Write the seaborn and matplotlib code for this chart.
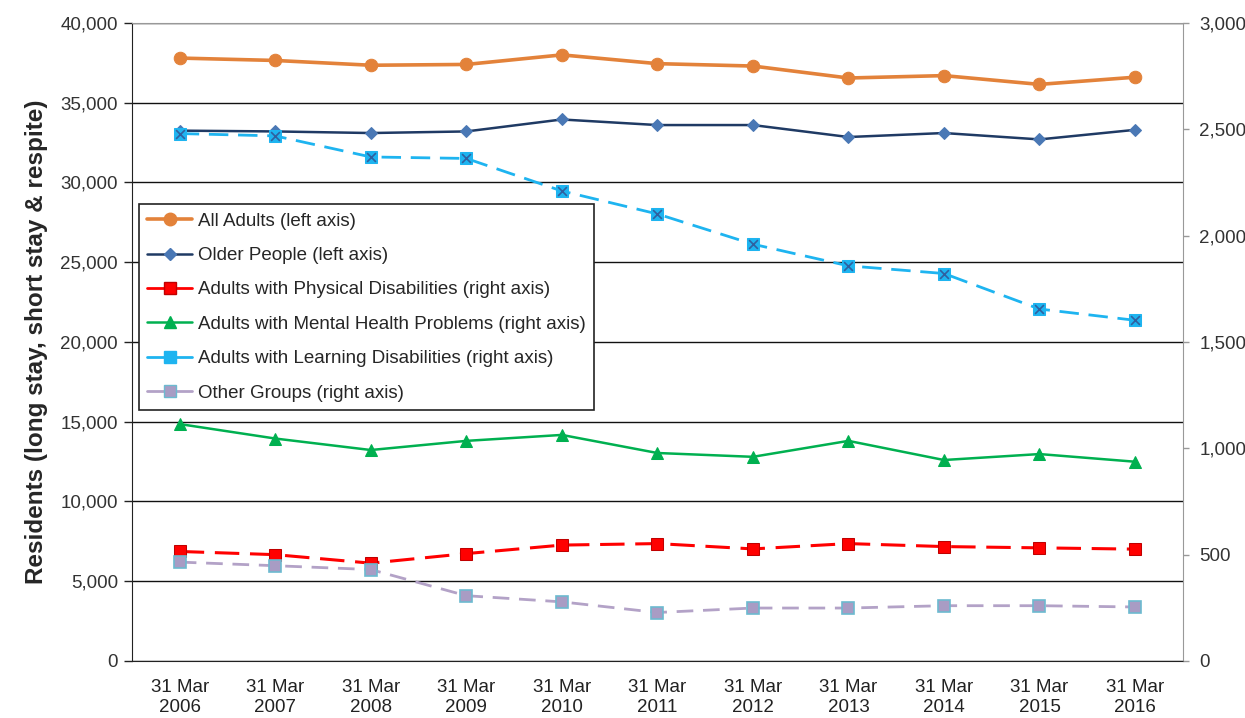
import pandas as pd
import matplotlib
matplotlib.use("Agg")
import matplotlib.pyplot as plt
from matplotlib.lines import Line2D
from matplotlib.ticker import FuncFormatter, MultipleLocator
import seaborn as sns

years = ["2006", "2007", "2008", "2009", "2010", "2011", "2012", "2013", "2014", "2015", "2016"]
tick_labels = ["31 Mar\n" + y for y in years]

# left axis
all_adults = [37800, 37650, 37350, 37400, 38000, 37450, 37300, 36550, 36700, 36150, 36600]
older_people = [33250, 33200, 33100, 33200, 33950, 33600, 33600, 32850, 33100, 32700, 33300]
# right axis
physical = [515, 500, 460, 505, 545, 552, 527, 552, 538, 532, 526]
mental_health = [1114, 1046, 992, 1035, 1063, 978, 960, 1035, 945, 973, 937]
learning = [2480, 2469, 2370, 2363, 2210, 2102, 1960, 1858, 1822, 1655, 1602]
other = [465, 448, 430, 307, 278, 228, 249, 249, 260, 260, 254]

df = pd.DataFrame({
    "pos": range(len(years)),
    "all_adults": all_adults,
    "older_people": older_people,
    "physical": physical,
    "mental_health": mental_health,
    "learning": learning,
    "other": other,
})

sns.set_style("white")
plt.rcParams["font.family"] = ["Liberation Sans", "DejaVu Sans"]

fig = plt.figure(figsize=(12.45, 7.18), dpi=100)
ax = fig.add_axes([0.106, 0.0794, 0.844, 0.8886])
ax2 = ax.twinx()

# left axis series
sns.lineplot(data=df, x="pos", y="all_adults", ax=ax, color="#E3823A", lw=2.6,
             marker="o", markersize=9, markeredgecolor="#E3823A", zorder=4)
sns.lineplot(data=df, x="pos", y="older_people", ax=ax, color="#1F3A64", lw=1.8,
             marker="D", markersize=6.5, markerfacecolor="#4A78B5",
             markeredgecolor="#4A78B5", zorder=4)

# right axis series
sns.lineplot(data=df, x="pos", y="physical", ax=ax2, color="#FF0000", lw=2.2,
             marker="s", markersize=9, markeredgecolor="#C00000", zorder=4)
ax2.lines[-1].set_dashes((8, 3.5))
sns.lineplot(data=df, x="pos", y="mental_health", ax=ax2, color="#00B050", lw=1.8,
             marker="^", markersize=9, markeredgecolor="#00B050", zorder=4)
sns.lineplot(data=df, x="pos", y="learning", ax=ax2, color="#1EB4F0", lw=2.0,
             marker="s", markersize=8, markeredgecolor="#1EB4F0", zorder=4)
ax2.lines[-1].set_dashes((7, 3.5))
sns.scatterplot(data=df, x="pos", y="learning", ax=ax2, marker="x", s=40,
                color="#3060A0", linewidth=1.2, zorder=5)
sns.lineplot(data=df, x="pos", y="other", ax=ax2, color="#B3A2C7", lw=2.0,
             marker="s", markersize=9, markerfacecolor="#A89CC4",
             markeredgecolor="#6CBAD0", markeredgewidth=1.2, zorder=4)
ax2.lines[-1].set_dashes((6, 3.5))

# axes limits and ticks
ax.set_xlim(-0.5, len(years) - 0.5)
ax.set_ylim(0, 40000)
ax2.set_ylim(0, 3000)
ax.yaxis.set_major_locator(MultipleLocator(5000))
ax2.yaxis.set_major_locator(MultipleLocator(500))
ax.yaxis.set_major_formatter(FuncFormatter(lambda v, p: f"{int(v):,}"))
ax2.yaxis.set_major_formatter(FuncFormatter(lambda v, p: f"{int(v):,}"))

ax.set_xticks(range(len(years)))
ax.set_xticklabels(tick_labels, linespacing=1.25)
ax.set_xticks([i - 0.5 for i in range(len(years) + 1)], minor=True)
ax.tick_params(axis="x", which="major", length=0, pad=13, labelsize=13.5, colors="#222222")
ax.tick_params(axis="x", which="minor", length=6, width=1, color="#222222", direction="out")
ax.tick_params(axis="y", length=6, width=1, color="#222222", direction="out",
               labelsize=13.5, labelcolor="#333333", left=True, pad=4)
ax2.tick_params(axis="y", length=4, width=1, color="#999999", direction="out",
                labelsize=13.5, labelcolor="#333333", right=True, pad=8)

ax.grid(axis="y", color="#111111", lw=1)
ax.set_xlabel("")
ax.set_ylabel("Residents (long stay, short stay & respite)", fontsize=17.5,
              fontweight="bold", labelpad=9)
ax2.set_xlabel("")
ax2.set_ylabel("")

for s in ["left", "bottom"]:
    ax.spines[s].set_color("#222222")
ax.spines["top"].set_color("#999999")
ax.spines["right"].set_color("#999999")
for s in ax2.spines.values():
    s.set_visible(False)

# legend with solid lines
handles = [
    Line2D([], [], color="#E3823A", lw=2.6, marker="o", markersize=9),
    Line2D([], [], color="#1F3A64", lw=1.8, marker="D", markersize=6.5,
           markerfacecolor="#4A78B5", markeredgecolor="#4A78B5"),
    Line2D([], [], color="#FF0000", lw=2.0, marker="s", markersize=9, markeredgecolor="#C00000"),
    Line2D([], [], color="#00B050", lw=1.8, marker="^", markersize=9),
    Line2D([], [], color="#1EB4F0", lw=2.0, marker="s", markersize=8),
    Line2D([], [], color="#B3A2C7", lw=2.0, marker="s", markersize=9,
           markerfacecolor="#A89CC4", markeredgecolor="#6CBAD0"),
]
labels = [
    "All Adults (left axis)",
    "Older People (left axis)",
    "Adults with Physical Disabilities (right axis)",
    "Adults with Mental Health Problems (right axis)",
    "Adults with Learning Disabilities (right axis)",
    "Other Groups (right axis)",
]
leg = ax2.legend(handles, labels, loc="upper left", bbox_to_anchor=(0.0067, 0.716),
                 frameon=True, fancybox=False, framealpha=1, fontsize=13.5, handlelength=2.4,
                 handletextpad=0.3, labelspacing=0.92, borderpad=0.45, borderaxespad=0)
leg.get_frame().set_edgecolor("#222222")
leg.get_frame().set_facecolor("white")
leg.get_frame().set_linewidth(1.2)
leg.set_zorder(10)

fig.savefig("out.png", dpi=100)
